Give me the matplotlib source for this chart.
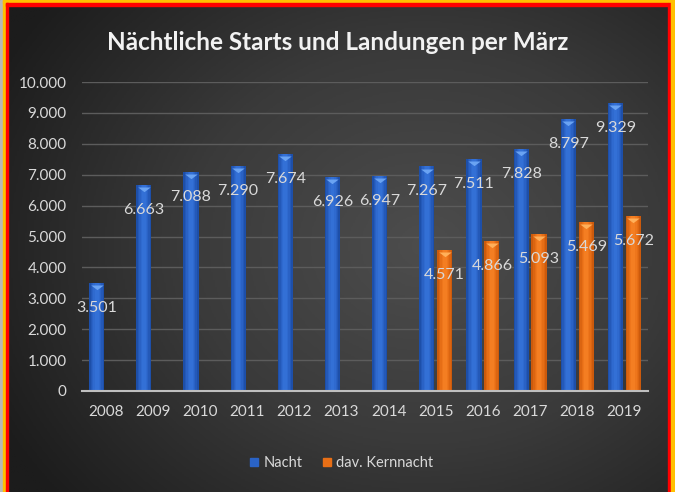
import numpy as np
import matplotlib.pyplot as plt
import matplotlib.transforms as mtransforms
from matplotlib.colors import LinearSegmentedColormap
from matplotlib.lines import Line2D
from matplotlib.patches import Rectangle
from matplotlib.path import Path

plt.rcParams['font.family'] = ['Lato', 'DejaVu Sans']

# data
years = ['2008', '2009', '2010', '2011', '2012', '2013',
         '2014', '2015', '2016', '2017', '2018', '2019']
nacht = [3501, 6663, 7088, 7290, 7674, 6926, 6947, 7267, 7511, 7828, 8797, 9329]
kern_years = ['2015', '2016', '2017', '2018', '2019']
kern = [4571, 4866, 5093, 5469, 5672]

W, H = 675, 492
fig = plt.figure(figsize=(W / 100, H / 100), dpi=100)

# dark radial background
bg = fig.add_axes([0, 0, 1, 1], zorder=0)
yy, xx = np.mgrid[0:1:300j, 0:1:400j]
r = np.sqrt(((xx - 0.63) / 0.75) ** 2 + ((yy - 0.5) / 0.85) ** 2)
cmap = LinearSegmentedColormap.from_list('bg', ['#4d4d4d', '#3a3a3a', '#1c1c1c'])
bg.imshow(r, cmap=cmap, extent=[0, 1, 0, 1], aspect='auto', origin='lower',
          vmin=0, vmax=0.95)
bg.axis('off')

# frame lines
def px_rect(x0, y0, x1, y1, color):
    fig.patches.append(Rectangle((x0 / W, 1 - y1 / H), (x1 - x0) / W, (y1 - y0) / H,
                                 transform=fig.transFigure, color=color, zorder=10))

px_rect(0, 0, 3, H, '#b8b8b8')
px_rect(3, 0, W, 3, '#ffc000')
px_rect(3, 0, 6, H, '#ffc000')
px_rect(6, 3, 668, 6, '#ff0000')
px_rect(6, 3, 8, H, '#ff0000')
px_rect(668, 3, 671, H, '#ff0000')
px_rect(671, 0, W, H, '#ffc000')

ax = fig.add_axes([82 / W, 1 - 391 / H, 566 / W, 309 / H], zorder=1)
ax.set_facecolor('none')

x = np.arange(len(years))
kx = np.array([years.index(y) for y in kern_years])
w = 0.32
off = 0.19
xb = x - off
xo = kx + off

# bars drawn in a few narrowing layers for a soft cylinder look
blue_shades = ['#1d4fa9', '#2459b8', '#2a62c5', '#2f6acf', '#3370d6']
orange_shades = ['#cc5a0c', '#db6511', '#e66e16', '#ee761c', '#f47e22']
fracs = [1.0, 0.8, 0.6, 0.42, 0.25]
for f, cb, co in zip(fracs, blue_shades, orange_shades):
    ax.bar(xb, nacht, w * f, color=cb, linewidth=0, zorder=3)
    ax.bar(xo, kern, w * f, color=co, linewidth=0, zorder=3)

# small light chevron on bar tops
cap = Path([(-1, 0), (1, 0), (0, -0.75), (-1, 0)],
           [Path.MOVETO, Path.LINETO, Path.LINETO, Path.CLOSEPOLY])
shift = ax.transData + mtransforms.ScaledTranslation(0, -1.5 / 72, fig.dpi_scale_trans)
ax.scatter(xb, nacht, marker=cap, s=80, color='#6aa3f2', linewidths=0,
           zorder=4, transform=shift)
ax.scatter(xo, kern, marker=cap, s=80, color='#ffb05a', linewidths=0,
           zorder=4, transform=shift)

def fmt(v):
    return f'{v:,}'.replace(',', '.')

for xi, v in zip(xb, nacht):
    ax.annotate(fmt(v), (xi, v), xytext=(0, -18), textcoords='offset points',
                ha='center', va='center', color='#d9d9d9', fontsize=11.5, zorder=5)
for xi, v in zip(xo, kern):
    ax.annotate(fmt(v), (xi, v), xytext=(0, -18), textcoords='offset points',
                ha='center', va='center', color='#d9d9d9', fontsize=11.5, zorder=5)

ax.set_xlim(-0.5, len(years) - 0.5)
ax.set_ylim(0, 10000)
yt = np.arange(0, 10001, 1000)
ax.set_yticks(yt)
ax.set_yticklabels([fmt(v) for v in yt])
ax.set_xticks(x)
ax.set_xticklabels(years)
ax.tick_params(axis='both', length=0, colors='#d9d9d9', labelsize=11)
ax.tick_params(axis='y', pad=11)
ax.tick_params(axis='x', pad=10)
ax.grid(axis='y', color='#5c5c5c', linewidth=1, zorder=0)
for s in ['top', 'left', 'right']:
    ax.spines[s].set_visible(False)
ax.spines['bottom'].set_color('#bfbfbf')
ax.spines['bottom'].set_linewidth(1.5)
ax.spines['bottom'].set_zorder(4)

fig.text(0.5, 1 - 42 / H, 'Nächtliche Starts und Landungen per März',
         ha='center', va='center', fontsize=17.5, fontweight='bold', color='#f2f2f2')

handles = [Line2D([], [], marker='s', linestyle='none', markersize=5.5,
                  markerfacecolor='#2a63c6', markeredgecolor='#2a63c6'),
           Line2D([], [], marker='s', linestyle='none', markersize=5.5,
                  markerfacecolor='#e86f16', markeredgecolor='#e86f16')]
fig.legend(handles, ['Nacht', 'dav. Kernnacht'], loc='center',
           bbox_to_anchor=(341 / W, 1 - 463 / H), ncol=2, frameon=False,
           labelcolor='#d9d9d9', fontsize=10.5, handlelength=0.7,
           handletextpad=0.3, columnspacing=1.3)

fig.savefig('out.png', dpi=100)
